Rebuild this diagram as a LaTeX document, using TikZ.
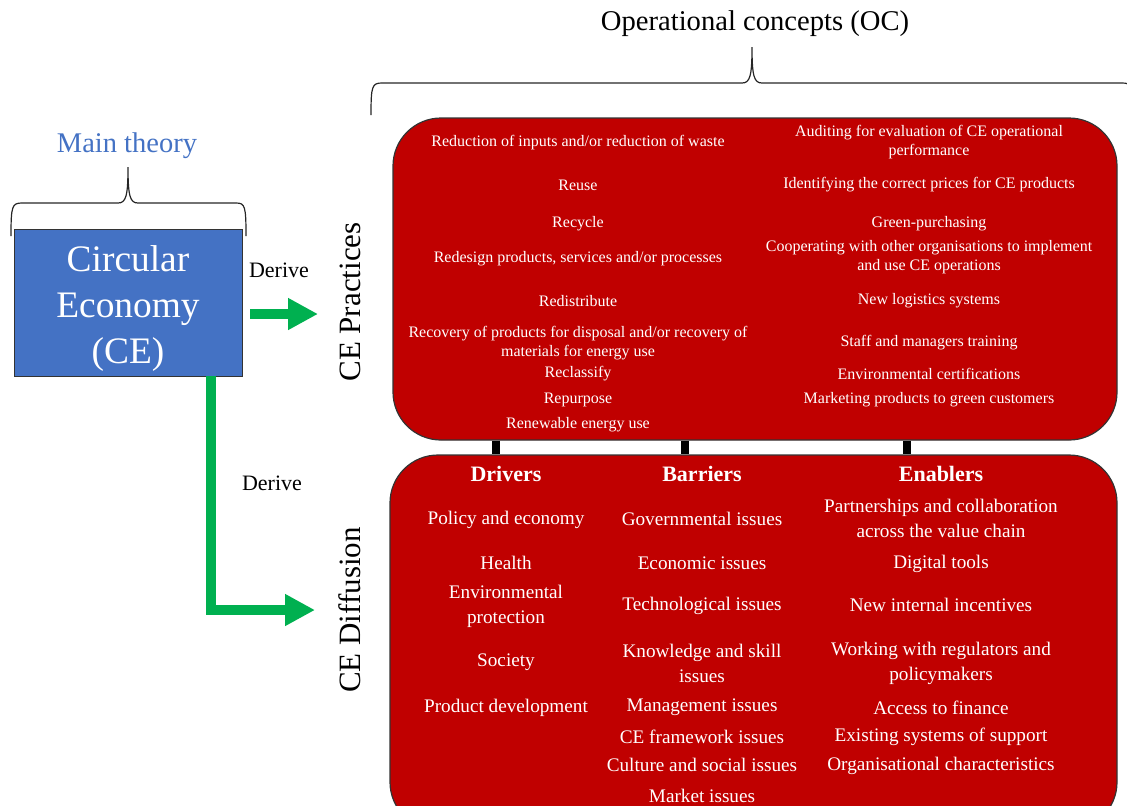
\documentclass[tikz,border=0pt]{standalone}
\usepackage{fontspec}
\setmainfont{Liberation Serif}
\usepackage{xcolor}
\usepackage{tikz}
\usetikzlibrary{positioning,arrows.meta}
\definecolor{ceblue}{RGB}{68,114,196}
\definecolor{cered}{RGB}{192,0,0}
\definecolor{cegreen}{RGB}{0,176,80}

\begin{document}
\begin{tikzpicture}[x=0.5pt, y=-0.5pt, >=latex]
    \tikzstyle{theory} = [draw=black!80, fill=ceblue, minimum width=114pt, minimum height=73.5pt]
    \tikzstyle{redbox} = [draw=black!80, fill=cered, rounded corners=24pt, line width=0.6pt, inner sep=0pt]
    \tikzstyle{practice} = [text=white, align=center, inner sep=0pt, yshift=-1pt, font=\fontsize{8}{9.5}\selectfont]
    \tikzstyle{diffitem} = [text=white, align=center, inner sep=0pt, yshift=-1.2pt, font=\fontsize{9.6}{12.8}\selectfont]
    \tikzstyle{colhead} = [text=white, inner sep=0pt, yshift=-0.5pt, font=\fontsize{11}{13}\selectfont\bfseries]
    \tikzstyle{sidelabel} = [rotate=90, inner sep=0pt, font=\fontsize{15.5}{18}\selectfont]
    \tikzstyle{derive} = [inner sep=0pt, font=\fontsize{11}{13}\selectfont]
    \tikzstyle{greenarrow} = [cegreen, line width=5pt, -{Triangle[length=15pt, width=15pt]}]
    \tikzstyle{bar} = [line width=4pt, black]
    \tikzstyle{curly} = [draw=black!85, line width=0.6pt]

    \path[use as bounding box, clip] (0,0) rectangle (1127,805);

    % main theory
    \node[theory] (ce) at (128,302.5) {};
    \node[text=white, align=center, font=\fontsize{18.7}{23}\selectfont] (cetext) at (128,308) {Circular\\Economy\\(CE)};
    \node[text=ceblue, font=\fontsize{14.25}{17}\selectfont] (maintheory) at (127,146) {Main theory};
    \draw[curly] (11,236) .. controls (11,206) and (12,203) .. (22,203) -- (118,203)
        .. controls (126,203) and (128,196) .. (128,167)
        .. controls (128,196) and (130,203) .. (138,203) -- (236,203)
        .. controls (245,203) and (246,206) .. (246,236);

    % operational concepts
    \node[font=\fontsize{14.3}{17}\selectfont] (oc) at (755,24) {Operational concepts (OC)};
    \draw[curly] (371,115) .. controls (371,86) and (372,83) .. (382,83) -- (742,83)
        .. controls (750,83) and (752,76) .. (752,47)
        .. controls (752,76) and (754,83) .. (762,83) -- (1122,83)
        .. controls (1132,83) and (1133,86) .. (1133,115);

    \node[redbox, minimum width=362pt, minimum height=161pt] (practices) at (755,279) {};
    \node[redbox, minimum width=363.5pt, minimum height=187.5pt] (diffusion) at (753.5,642.5) {};

    \node[sidelabel] (practlabel) at (350,302) {CE Practices};
    \node[sidelabel] (difflabel) at (350,610) {CE Diffusion};

    % derive arrows
    \coordinate (a1) at (250,314);
    \coordinate (a1end) at (318,314);
    \coordinate (v) at (211,0);
    \coordinate (a2end) at (315,610);
    \draw[greenarrow] (a1) -- (a1end);
    \draw[greenarrow] (ce.south -| v) |- (a2end);
    \node[derive] (derive1) at (279,270) {Derive};
    \node[derive] (derive2) at (272,483) {Derive};

    % links between boxes
    \coordinate (b1) at (496,0);
    \coordinate (b2) at (685,0);
    \coordinate (b3) at (907,0);
    \draw[bar] (practices.south -| b1) -- (diffusion.north -| b1);
    \draw[bar] (practices.south -| b2) -- (diffusion.north -| b2);
    \draw[bar] (practices.south -| b3) -- (diffusion.north -| b3);

    % practices
    \node[practice] (p1) at (578,141) {Reduction of inputs and/or reduction of waste};
    \node[practice] (p2) at (578,183) {Reuse};
    \node[practice] (p3) at (578,222) {Recycle};
    \node[practice] (p4) at (578,257) {Redesign products, services and/or processes};
    \node[practice] (p5) at (578,299) {Redistribute};
    \node[practice] (p6) at (578,341) {Recovery of products for disposal and/or recovery of\\materials for energy use};
    \node[practice] (p7) at (578,372) {Reclassify};
    \node[practice] (p8) at (578,398) {Repurpose};
    \node[practice] (p9) at (578,423) {Renewable energy use};

    \node[practice] (q1) at (929,140) {Auditing for evaluation of CE operational\\performance};
    \node[practice] (q2) at (929,183) {Identifying the correct prices for CE products};
    \node[practice] (q3) at (929,222) {Green-purchasing};
    \node[practice] (q4) at (929,255) {Cooperating with other organisations to implement\\and use CE operations};
    \node[practice] (q5) at (929,299) {New logistics systems};
    \node[practice] (q6) at (929,341) {Staff and managers training};
    \node[practice] (q7) at (929,372) {Environmental certifications};
    \node[practice] (q8) at (929,398) {Marketing products to green customers};

    % diffusion
    \node[colhead] (drivers) at (506,473) {Drivers};
    \node[colhead] (barriers) at (702,473) {Barriers};
    \node[colhead] (enablers) at (941,473) {Enablers};

    \node[diffitem] (d1) at (506,517) {Policy and economy};
    \node[diffitem] (d2) at (506,561) {Health};
    \node[diffitem] (d3) at (506,604) {Environmental\\protection};
    \node[diffitem] (d4) at (506,660) {Society};
    \node[diffitem] (d5) at (506,705) {Product development};

    \node[diffitem] (k1) at (702,517) {Governmental issues};
    \node[diffitem] (k2) at (702,561) {Economic issues};
    \node[diffitem] (k3) at (702,603) {Technological issues};
    \node[diffitem] (k4) at (702,661) {Knowledge and skill\\issues};
    \node[diffitem] (k5) at (702,705) {Management issues};
    \node[diffitem] (k6) at (702,734) {CE framework issues};
    \node[diffitem] (k7) at (702,763) {Culture and social issues};
    \node[diffitem] (k8) at (702,794) {Market issues};

    \node[diffitem] (e1) at (941,516) {Partnerships and collaboration\\across the value chain};
    \node[diffitem] (e2) at (941,561) {Digital tools};
    \node[diffitem] (e3) at (941,603) {New internal incentives};
    \node[diffitem] (e4) at (941,661) {Working with regulators and\\policymakers};
    \node[diffitem] (e5) at (941,705) {Access to finance};
    \node[diffitem] (e6) at (941,734) {Existing systems of support};
    \node[diffitem] (e7) at (941,763) {Organisational characteristics};
\end{tikzpicture}
\end{document}
